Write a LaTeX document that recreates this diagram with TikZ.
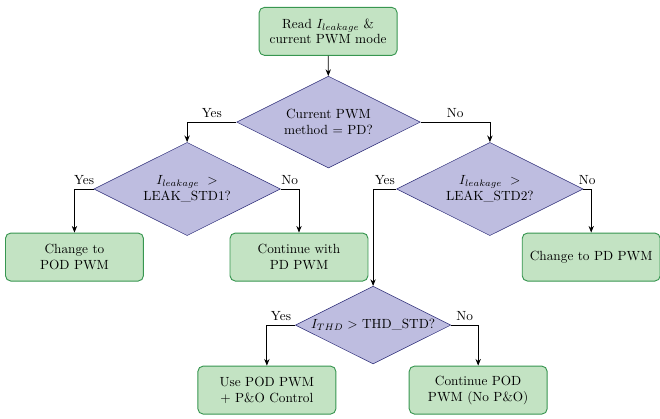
\documentclass[tikz,border=0pt]{standalone}
\usepackage{amsmath}
\usetikzlibrary{arrows.meta, shapes.geometric}
\definecolor{boxgreen}{RGB}{195,227,195}
\definecolor{boxedge}{RGB}{55,150,80}
\definecolor{decfill}{RGB}{190,189,224}
\definecolor{decedge}{RGB}{45,45,120}

\begin{document}
\begin{tikzpicture}[
    procbox/.style={draw=boxedge, fill=boxgreen, rounded corners, line width=0.7pt,
                    minimum width=3.65cm, minimum height=1.27cm, align=center},
    decision/.style={diamond, draw=decedge, fill=decfill, aspect=2, inner sep=1pt,
                     text width=3.3cm, align=center},
    flow/.style={-{Stealth[length=5pt, width=4pt]}, semithick}]
  \useasboundingbox (0,0) rectangle (17.46,-11.06);

  % top of the chart
  \node[procbox] (read) at (8.68,-0.83) {Read $I_{leakage}$ \&\\current PWM mode};
  \node[decision] (qmode) at (8.69,-3.23) {Current PWM method = PD?};

  % second level
  \node[decision] (qleakpd) at (4.95,-5.0) {$I_{leakage} >$ LEAK\_STD1?};
  \node[decision] (qleakpod) at (12.96,-5.0) {$I_{leakage} >$ LEAK\_STD2?};
  \node[procbox] (topod) at (1.97,-6.8) {Change to\\POD PWM};
  \node[procbox] (keeppd) at (7.91,-6.8) {Continue with\\PD PWM};
  \node[procbox] (topd) at (15.64,-6.8) {Change to PD PWM};

  % THD check
  \node[decision] (qthd) at (9.87,-8.6) {$I_{THD} >$ THD\_STD?};
  \node[procbox] (podpo) at (7.06,-10.32) {Use POD PWM\\+ P\&O Control};
  \node[procbox] (keeppod) at (12.65,-10.32) {Continue POD\\PWM (No P\&O)};

  \draw[flow] (read) -- (qmode);
  \draw[flow] (qmode.west) -| node[above, pos=0.25]{Yes} (qleakpd.north);
  \draw[flow] (qmode.east) -| node[above, pos=0.25]{No} (qleakpod.north);
  \draw[flow] (qleakpd.west) -| node[above, pos=0.25]{Yes} (topod.north);
  \draw[flow] (qleakpd.east) -| node[above, pos=0.25]{No} (keeppd.north);
  \draw[flow] (qleakpod.west) -| node[above, pos=0.25]{Yes} (qthd.north);
  \draw[flow] (qleakpod.east) -| node[above, pos=0.25]{No} (topd.north);
  \draw[flow] (qthd.west) -| node[above, pos=0.25]{Yes} (podpo.north);
  \draw[flow] (qthd.east) -| node[above, pos=0.25]{No} (keeppod.north);
\end{tikzpicture}
\end{document}
